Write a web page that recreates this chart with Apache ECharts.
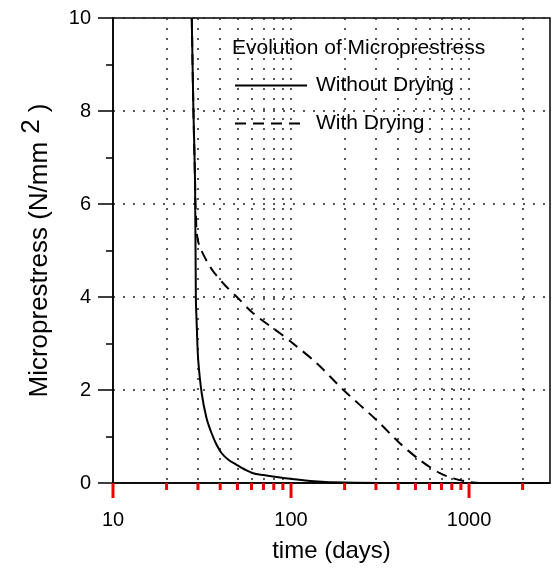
<!DOCTYPE html>
<html>
<head>
    <meta charset="utf-8">
    <title>Microprestress</title>
    <script src="https://cdn.jsdelivr.net/npm/echarts@6/dist/echarts.min.js"></script>
    <style>
        body { margin: 0; background: #fff; }
        #main { width: 553px; height: 569px; }
    </style>
</head>
<body>
    <div id="main"></div>
    <script type="text/javascript">
        // time (days) and microprestress (N/mm2)
        var noDryT = [27.7, 28.3, 28.9, 29.2, 29.6, 30.1, 31.5, 33.5, 35.8, 38, 40.8, 44.5, 49.5, 55, 61.3, 70, 79, 100, 135, 200, 400, 1000, 2850];
        var noDryV = [10, 8.0, 6.5, 4.0, 3.3, 2.65, 1.93, 1.4, 1.07, 0.84, 0.64, 0.5, 0.39, 0.29, 0.21, 0.17, 0.14, 0.09, 0.04, 0.01, 0.0, 0.0, 0.0];

        var dryT = [27.7, 28.3, 28.9, 29.2, 30.1, 35.1, 41.7, 50.6, 61.3, 86.7, 105, 140, 197, 303, 410, 531, 687, 817, 971, 1153];
        var dryV = [10, 8.0, 6.5, 5.8, 5.19, 4.65, 4.29, 3.97, 3.65, 3.22, 2.97, 2.57, 2.0, 1.35, 0.85, 0.49, 0.21, 0.1, 0.03, 0.0];

        var majorTicks = [10, 100, 1000];
        var minorTicks = [20, 30, 40, 50, 60, 70, 80, 90, 100, 200, 300, 400, 500, 600, 700, 800, 900, 1000, 2000];

        var seriesNames = ['Without Drying', 'With Drying'];
        var titleText = 'Evolution of Microprestress';

        function pairs(xs, ys) {
            return xs.map(function (x, i) { return [x, ys[i]]; });
        }

        var font = "'Liberation Sans', Arial, sans-serif";
        var dotted = { color: '#222', width: 1.5, type: [2, 8] };
        var black = { color: '#000', width: 1.5 };
        var box = { left: 113, top: 18, right: 3, bottom: 86 };

        var chart = echarts.init(document.getElementById('main'));
        chart.setOption({
            animation: false,
            backgroundColor: '#fff',
            textStyle: { fontFamily: font, color: '#000' },
            title: {
                text: titleText,
                left: 232,
                top: 38,
                padding: 0,
                textStyle: { fontSize: 21, fontWeight: 'normal', color: '#000', fontFamily: font }
            },
            legend: {
                data: seriesNames,
                orient: 'vertical',
                left: 234,
                top: 75,
                padding: 0,
                itemWidth: 72,
                itemHeight: 21,
                itemGap: 17,
                itemStyle: { opacity: 0 },
                textStyle: { fontSize: 21, color: '#000', fontFamily: font, padding: [0, 0, 0, 4] }
            },
            grid: [
                {
                    left: box.left, top: box.top, right: box.right, bottom: box.bottom,
                    show: true,
                    borderColor: '#000',
                    borderWidth: 1.5
                },
                // same box again, only for the dotted vertical lines
                { left: box.left, top: box.top, right: box.right, bottom: box.bottom, show: false }
            ],
            xAxis: [
                {
                    gridIndex: 0,
                    type: 'log',
                    logBase: 10,
                    min: 10,
                    max: 2850,
                    position: 'bottom',
                    name: 'time (days)',
                    nameLocation: 'middle',
                    nameGap: 56,
                    nameTextStyle: { fontSize: 24, color: '#000', fontFamily: font },
                    axisLine: { onZero: false, lineStyle: black },
                    axisTick: { show: false },
                    axisLabel: {
                        fontSize: 20, color: '#000', margin: 27, customValues: majorTicks,
                        formatter: function (v) { return String(Math.round(v)); }
                    },
                    splitLine: { show: false }
                },
                {
                    gridIndex: 1,
                    type: 'log',
                    logBase: 10,
                    min: 10,
                    max: 2850,
                    position: 'bottom',
                    axisLine: { show: false, onZero: false },
                    axisTick: { show: false, customValues: minorTicks },
                    axisLabel: { show: false },
                    splitLine: { show: true, lineStyle: dotted }
                }
            ],
            yAxis: [
                {
                    gridIndex: 0,
                    type: 'value',
                    min: 0,
                    max: 10,
                    interval: 2,
                    name: 'Microprestress (N/mm{sup|2} )',
                    nameLocation: 'middle',
                    nameGap: 52,
                    nameRotate: 90,
                    nameTextStyle: {
                        fontSize: 26,
                        color: '#000',
                        fontFamily: font,
                        rich: {
                            sup: { fontSize: 26, fontFamily: font, color: '#000', padding: [0, 0, 16, 8] }
                        }
                    },
                    axisLine: { show: true, lineStyle: black },
                    axisTick: { length: 15, lineStyle: black },
                    minorTick: { show: true, splitNumber: 2, length: 7, lineStyle: black },
                    axisLabel: { fontSize: 20, color: '#000', margin: 22 },
                    splitLine: { show: true, lineStyle: dotted }
                },
                {
                    gridIndex: 1,
                    type: 'value',
                    min: 0,
                    max: 10,
                    show: false
                }
            ],
            series: [
                {
                    name: seriesNames[0],
                    type: 'line',
                    xAxisIndex: 0,
                    yAxisIndex: 0,
                    data: pairs(noDryT, noDryV),
                    showSymbol: false,
                    symbol: 'none',
                    smooth: 0.3,
                    itemStyle: { color: '#000' },
                    lineStyle: { color: '#000', width: 2, type: 'solid' }
                },
                {
                    name: seriesNames[1],
                    type: 'line',
                    xAxisIndex: 0,
                    yAxisIndex: 0,
                    data: pairs(dryT, dryV),
                    showSymbol: false,
                    symbol: 'none',
                    smooth: 0.3,
                    itemStyle: { color: '#000' },
                    lineStyle: { color: '#000', width: 2, type: [11, 7] }
                }
            ]
        });

        // x axis ticks below the axis line, placed through the chart's own log scale
        var tickValues = majorTicks.concat(minorTicks.filter(function (v) {
            return majorTicks.indexOf(v) < 0;
        }));
        var tickMarks = tickValues.map(function (v) {
            var p = chart.convertToPixel({ xAxisIndex: 0, yAxisIndex: 0 }, [v, 0]);
            var len = majorTicks.indexOf(v) >= 0 ? 15 : 7;
            return {
                type: 'line',
                silent: true,
                z: 100,
                shape: { x1: p[0], y1: p[1], x2: p[0], y2: p[1] + len },
                style: { stroke: '#e00', lineWidth: 3 }
            };
        });
        chart.setOption({ graphic: tickMarks });
    </script>
</body>
</html>
